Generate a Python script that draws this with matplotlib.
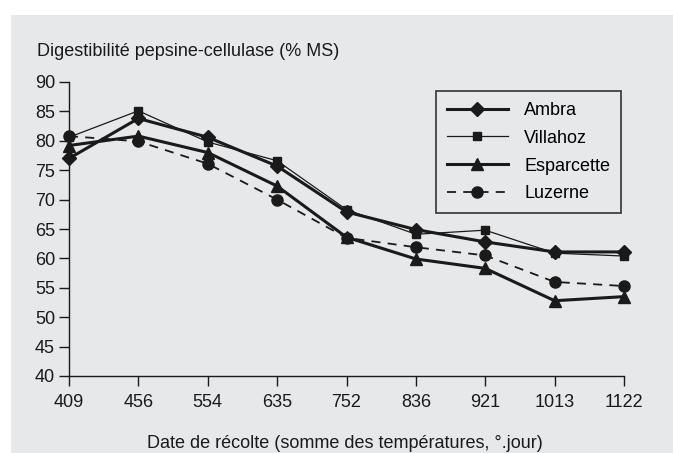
import matplotlib
matplotlib.use("Agg")
import matplotlib.pyplot as plt
from matplotlib.patches import Rectangle

plt.rcParams["font.family"] = ["Liberation Sans", "DejaVu Sans"]

# Données
dates = ["409", "456", "554", "635", "752", "836", "921", "1013", "1122"]
ambra = [77.0, 83.8, 80.6, 75.7, 67.9, 64.9, 62.8, 61.1, 61.1]
villahoz = [80.6, 85.1, 79.8, 76.6, 68.3, 64.1, 64.8, 60.9, 60.4]
esparcette = [79.2, 80.8, 78.0, 72.3, 63.6, 59.9, 58.3, 52.8, 53.5]
luzerne = [80.8, 79.9, 76.1, 70.0, 63.5, 61.9, 60.5, 56.0, 55.3]

noir = "#1a1a1a"
fond = "#e7e8ea"
taille = 13

fig = plt.figure(figsize=(6.73, 4.53), dpi=100, facecolor="white")

# Fond gris du cadre (derrière les axes)
fig.add_artist(Rectangle((11 / 673, 0), 1 - 11 / 673, 1 - 15 / 453,
                         transform=fig.transFigure, facecolor=fond,
                         edgecolor="none", zorder=-10))

ax = fig.add_axes([69 / 673, 77 / 453, 555 / 673, 294 / 453])
ax.set_facecolor("none")

x = list(range(len(dates)))
ax.plot(x, ambra, color=noir, lw=2.2, marker="D", ms=7, label="Ambra", clip_on=False)
ax.plot(x, villahoz, color=noir, lw=0.9, marker="s", ms=6, label="Villahoz", clip_on=False)
ax.plot(x, esparcette, color=noir, lw=2.2, marker="^", ms=9, label="Esparcette", clip_on=False)
ax.plot(x, luzerne, color=noir, lw=1.3, marker="o", ms=8, dashes=(5, 4),
        label="Luzerne", clip_on=False)

ax.set_xlim(0, 8)
ax.set_ylim(40, 90)
ax.set_xticks(x)
ax.set_xticklabels(dates)
ax.set_yticks(range(40, 91, 5))

for s in ["top", "right"]:
    ax.spines[s].set_visible(False)
for s in ["left", "bottom"]:
    ax.spines[s].set_color(noir)
    ax.spines[s].set_linewidth(1.0)
ax.tick_params(direction="out", length=7, width=1.0, color=noir,
               labelsize=taille, labelcolor=noir)
ax.tick_params(axis="x", pad=6)
ax.tick_params(axis="y", pad=3)

leg = ax.legend(loc="upper right", bbox_to_anchor=(0.995, 0.969), borderaxespad=0,
                fontsize=taille, handlelength=3.4, fancybox=False, framealpha=1,
                facecolor=fond, edgecolor="#333333", labelspacing=0.6,
                handletextpad=0.9, borderpad=0.6)
leg.get_frame().set_linewidth(1.2)

fig.text(37 / 673, 1 - 52 / 453, "Digestibilité pepsine-cellulase (% MS)",
         ha="left", va="center", fontsize=taille, color=noir)
fig.text(345 / 673, 1 - 443 / 453, "Date de récolte (somme des températures, °.jour)",
         ha="center", va="center", fontsize=taille, color=noir)

fig.savefig("out.png", dpi=100, facecolor="white")
